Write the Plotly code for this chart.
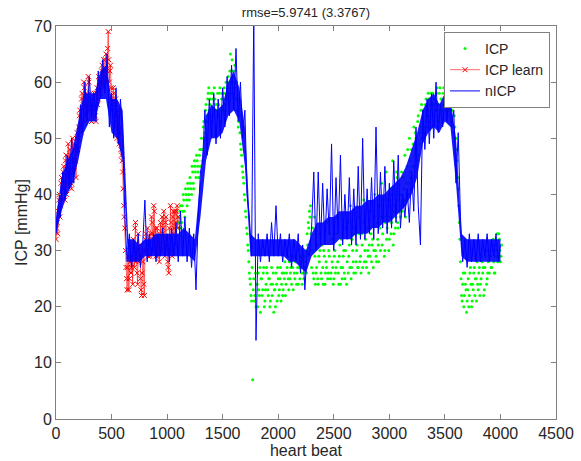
import plotly.graph_objects as go

# ---------------- data ----------------
# nICP (blue line), one value every 20 heart beats, starting at beat 0
nicp_start, nicp_step = 0, 20
nicp = [
    33, 38, 36, 44, 39, 47, 41, 50, 42, 49,      # 0-180
    47, 56, 51, 60, 53, 61, 54, 58, 53, 62,      # 200-380
    57, 64, 58, 65, 52, 58, 50, 59, 49, 57,      # 400-580
    51, 36, 28, 33, 27, 32, 28, 33, 27, 31,      # 600-780
    39, 28, 33, 29, 33, 28, 33, 29, 34, 29,      # 800-980
    33, 28, 34, 29, 35, 28, 37, 29, 36, 28,      # 1000-1180
    34, 27, 33, 23, 36, 44, 46, 55, 47, 57,      # 1200-1380
    50, 58, 49, 57, 50, 59, 52, 61, 54, 63,      # 1400-1580
    55, 66, 53, 60, 50, 55, 40, 36, 29, 72,      # 1600-1780
    14, 33, 28, 32, 29, 33, 28, 35, 29, 38,      # 1800-1980
    29, 33, 28, 32, 29, 33, 27, 32, 28, 33,      # 2000-2180
    26, 31, 23, 30, 29, 34, 44, 30, 44, 31,      # 2200-2380
    42, 31, 41, 33, 49, 30, 43, 33, 47, 31,      # 2400-2580
    40, 32, 43, 31, 41, 31, 45, 32, 50, 32,      # 2600-2780
    41, 33, 43, 32, 52, 33, 44, 34, 45, 33,      # 2800-2980
    42, 34, 46, 35, 47, 34, 40, 36, 41, 35,      # 3000-3180
    44, 37, 52, 38, 31, 55, 48, 57, 49, 58,      # 3200-3380
    50, 60, 51, 56, 52, 58, 53, 59, 52, 55,      # 3400-3580
    42, 51, 36, 28, 32, 27, 33, 28, 32, 28,      # 3600-3780
    33, 28, 32, 29, 33, 28, 32, 29, 33, 28,      # 3800-3980
    31,                                          # 4000
]

# dense core of the nICP trace: lower / upper edge every 50 heart beats
band_start, band_step = 0, 50
nicp_core_lo = [
    33, 37, 40, 42, 46, 51, 53, 53, 57, 57,      # 0-450
    51, 50, 46, 28, 28, 28, 29, 29, 29, 29,      # 500-950
    29, 29, 29, 29, 29, 28, 36, 46, 50, 50,      # 1000-1450
    51, 54, 55, 53, 45, 29, 29, 29, 29, 29,      # 1500-1950
    29, 29, 28, 28, 27, 26, 29, 30, 31, 31,      # 2000-2450
    31, 32, 32, 32, 33, 33, 33, 34, 34, 35,      # 2500-2950
    35, 36, 37, 38, 40, 43, 49, 51, 52, 51,      # 3000-3450
    53, 52, 42, 29, 28, 28, 28, 28, 28, 28,      # 3500-3950
    28,                                          # 4000
]
nicp_core_hi = [
    36, 43, 46, 48, 53, 58, 58, 58, 62, 63,      # 0-450
    57, 57, 55, 32, 32, 31, 32, 32, 33, 33,      # 500-950
    33, 33, 33, 34, 33, 32, 43, 54, 56, 55,      # 1000-1450
    56, 60, 62, 59, 52, 33, 32, 32, 32, 32,      # 1500-1950
    32, 32, 32, 32, 31, 30, 33, 35, 35, 36,      # 2000-2450
    36, 37, 37, 37, 38, 38, 39, 39, 40, 40,      # 2500-2950
    41, 42, 43, 45, 48, 51, 55, 57, 58, 56,      # 3000-3450
    58, 57, 50, 33, 32, 32, 32, 32, 32, 32,      # 3500-3950
    32,                                          # 4000
]

# ICP learn (red): two interleaved readings, every 10 beats from 0 and from 5
learn_start_a, learn_start_b, learn_step = 0, 5, 10
icp_learn_a = [
    32, 35, 37, 40, 38, 43, 41, 45, 39, 47, 42, 49, 44, 47, 41, 50, 45, 48, 43, 51,
    50, 54, 52, 57, 55, 60, 53, 58, 56, 61, 55, 58, 53, 57, 54, 56, 53, 59, 57, 60,
    58, 62, 60, 64, 61, 65, 62, 69, 60, 63, 57, 55, 58, 52, 56, 50, 54, 49, 51, 47,
    44, 38, 34, 27, 23, 29, 25, 31, 27, 24, 30, 34, 28, 26, 33, 29, 25, 22, 28, 24,
    30, 33, 31, 29, 32, 30, 36, 33, 38, 31, 29, 34, 32, 28, 35, 30, 33, 37, 29, 36,
    31, 27, 34, 38, 30, 36, 33, 37, 35, 38, 36,
]
icp_learn_b = [
    34, 33, 39, 36, 42, 39, 44, 42, 46, 40, 45, 43, 48, 42, 46, 44, 49, 46, 50, 48,
    52, 55, 51, 58, 56, 59, 54, 57, 55, 60, 56, 54, 56, 55, 58, 54, 58, 56, 61, 59,
    60, 63, 59, 62, 64, 60, 66, 64, 62, 59, 56, 59, 54, 57, 53, 55, 51, 52, 48, 46,
    41, 36, 30, 25, 27, 23, 28, 26, 29, 32, 27, 35, 30, 24, 28, 31, 23, 26, 30, 22,
    32, 30, 34, 31, 29, 33, 35, 30, 37, 34, 32, 29, 31, 33, 30, 36, 34, 31, 35, 30,
    28, 26, 32, 35, 29, 37, 34, 31, 37, 34,
]

# ICP (green dots): two interleaved readings, every 10 beats from 1100 and from 1105
icp_start_a, icp_start_b, icp_step = 1100, 1105, 10
icp_a = [
    36, 34, 38, 35, 37, 39, 36, 40, 38, 41, 39, 42, 40, 44, 41, 45, 43, 46, 44, 47,
    45, 50, 48, 53, 51, 56, 54, 58, 55, 57, 53, 58, 55, 57, 52, 56, 54, 58, 53, 57,
    55, 58, 56, 60, 57, 61, 59, 65, 58, 62, 60, 63, 57, 55, 52, 54, 49, 47, 44, 42,
    39, 36, 33, 30, 26, 24, 21, 7, 25, 22, 20, 24, 26, 22, 19, 25, 23, 27, 21, 24,
    26, 22, 25, 21, 27, 24, 19, 23, 26, 21, 25, 23, 27, 24, 22, 26, 28, 24, 27, 25,
    28, 26, 24, 27, 29, 25, 28, 26, 24, 27, 29, 26, 28, 25, 27, 30, 33, 35, 37, 38,
    27, 34, 25, 29, 26, 31, 24, 28, 33, 25, 27, 30, 24, 28, 35, 26, 29, 25, 32, 27,
    25, 30, 27, 36, 26, 29, 24, 32, 27, 30, 25, 34, 28, 26, 31, 38, 27, 30, 26, 33,
    28, 31, 27, 36, 29, 33, 27, 39, 30, 28, 34, 29, 31, 37, 28, 32, 30, 40, 29, 35,
    31, 38, 30, 42, 33, 36, 30, 44, 34, 39, 32, 41, 35, 46, 33, 38, 36, 43, 34, 40,
    36, 44, 38, 41, 47, 39, 45, 42, 50, 44, 48, 45, 52, 47, 50, 46, 54, 49, 52, 56,
    50, 55, 52, 57, 54, 58, 53, 56, 55, 58, 54, 57, 55, 59, 56, 58, 55, 57, 56, 59,
    57, 60, 56, 58, 55, 57, 53, 56, 51, 52, 50, 46, 41, 35, 28, 22, 24, 20, 26, 23,
    21, 25, 22, 27, 20, 24, 26, 22, 25, 28, 23, 27, 24, 29, 26, 22, 27, 30, 25, 28,
    26, 29, 27, 31, 28, 26, 30, 33, 29, 32, 28, 31,
]
icp_b = [
    35, 37, 34, 38, 40, 37, 41, 39, 42, 40, 43, 41, 45, 42, 46, 44, 47, 45, 43, 48,
    48, 46, 52, 50, 55, 53, 57, 59, 56, 58, 54, 57, 59, 56, 55, 58, 56, 59, 55, 58,
    57, 59, 55, 58, 60, 58, 62, 60, 64, 61, 59, 62, 60, 57, 53, 51, 48, 45, 43, 40,
    37, 34, 31, 28, 25, 22, 27, 23, 21, 26, 24, 20, 23, 27, 25, 22, 26, 20, 23, 27,
    23, 25, 20, 24, 22, 26, 23, 20, 24, 27, 22, 25, 21, 26, 23, 25, 22, 26, 29, 23,
    25, 27, 29, 23, 26, 28, 24, 27, 30, 25, 27, 24, 26, 29, 28, 26, 31, 34, 36, 33,
    30, 26, 36, 24, 27, 25, 29, 30, 26, 31, 24, 29, 26, 27, 25, 30, 33, 26, 28, 24,
    29, 26, 33, 28, 24, 31, 27, 25, 29, 26, 30, 24, 35, 29, 27, 25, 32, 28, 34, 26,
    30, 27, 33, 28, 26, 31, 35, 28, 32, 27, 30, 26, 29, 33, 31, 27, 36, 30, 28, 32,
    28, 34, 36, 31, 39, 29, 35, 32, 38, 30, 36, 33, 40, 31, 37, 34, 44, 35, 39, 37,
    40, 37, 43, 39, 36, 42, 48, 40, 46, 43, 41, 49, 45, 51, 48, 53, 47, 51, 55, 50,
    53, 51, 56, 52, 55, 57, 54, 58, 52, 56, 57, 55, 58, 53, 56, 59, 57, 55, 58, 56,
    58, 55, 59, 57, 54, 56, 55, 52, 54, 50, 48, 43, 38, 32, 25, 21, 26, 22, 24, 19,
    23, 20, 26, 24, 21, 23, 27, 25, 21, 24, 26, 22, 25, 28, 27, 23, 29, 24, 26, 30,
    29, 27, 30, 32, 26, 29, 31, 28, 33, 30, 29,
]

title_text = "rmse=5.9741 (3.3767)"
x_title = "heart beat"
y_title = "ICP [mmHg]"
x_range, x_dtick = [0, 4500], 500
y_range, y_dtick = [0, 70], 10

# ---------------- figure ----------------
nicp_x = [nicp_start + nicp_step * i for i in range(len(nicp))]
band_x = [band_start + band_step * i for i in range(len(nicp_core_lo))]

learn_pts = sorted(
    [(learn_start_a + learn_step * i, v) for i, v in enumerate(icp_learn_a)]
    + [(learn_start_b + learn_step * i, v) for i, v in enumerate(icp_learn_b)]
)
learn_x = [p[0] for p in learn_pts]
learn_y = [p[1] for p in learn_pts]

icp_pts = sorted(
    [(icp_start_a + icp_step * i, v) for i, v in enumerate(icp_a)]
    + [(icp_start_b + icp_step * i, v) for i, v in enumerate(icp_b)]
)
icp_x = [p[0] for p in icp_pts]
icp_y = [p[1] for p in icp_pts]

font_family = "Liberation Sans, Arial, sans-serif"
axis_color = "#808080"
text_color = "#262626"
blue = "#0000ff"

fig = go.Figure()
fig.add_trace(go.Scatter(
    x=icp_x, y=icp_y, name="ICP", mode="markers",
    marker=dict(color="#00ff00", size=3, line=dict(width=0)),
))
fig.add_trace(go.Scatter(
    x=learn_x, y=learn_y, name="ICP learn", mode="lines+markers",
    line=dict(color="#ff0000", width=0.6),
    marker=dict(color="#ff0000", symbol="x-thin", size=5,
                line=dict(color="#ff0000", width=1)),
))
# dense core of nICP
fig.add_trace(go.Scatter(
    x=band_x, y=nicp_core_lo, mode="lines", line=dict(width=0, color=blue),
    showlegend=False, hoverinfo="skip",
))
fig.add_trace(go.Scatter(
    x=band_x, y=nicp_core_hi, mode="lines", line=dict(width=0, color=blue),
    fill="tonexty", fillcolor="rgba(0,0,255,0.9)",
    showlegend=False, hoverinfo="skip",
))
fig.add_trace(go.Scatter(
    x=nicp_x, y=nicp, name="nICP", mode="lines",
    line=dict(color=blue, width=1),
))

fig.update_layout(
    width=581, height=461,
    margin=dict(l=56, r=25, t=26, b=42),
    paper_bgcolor="white", plot_bgcolor="white",
    font=dict(family=font_family, size=16, color=text_color),
    title=dict(text=title_text, x=(306 / 581), xanchor="center",
               y=1 - 12 / 461, yanchor="middle",
               font=dict(size=13, color=text_color)),
    showlegend=True,
    legend=dict(x=0.988, y=0.985, xanchor="right", yanchor="top",
                traceorder="normal",
                bgcolor="white", bordercolor=axis_color, borderwidth=1,
                font=dict(size=14, color=text_color), tracegroupgap=0),
)
fig.update_xaxes(
    range=x_range, dtick=x_dtick, tick0=0, automargin=False,
    showgrid=False, zeroline=False,
    showline=True, linecolor=axis_color, linewidth=1, mirror="ticks",
    ticks="inside", ticklen=5, tickcolor=axis_color,
    tickfont=dict(size=16, color=text_color),
    title=dict(text=x_title, standoff=2, font=dict(size=16, color=text_color)),
)
fig.update_yaxes(
    range=y_range, dtick=y_dtick, tick0=0, automargin=False,
    showgrid=False, zeroline=False,
    showline=True, linecolor=axis_color, linewidth=1, mirror="ticks",
    ticks="inside", ticklen=5, tickcolor=axis_color,
    tickfont=dict(size=16, color=text_color),
    title=dict(text=y_title, standoff=2, font=dict(size=16, color=text_color)),
)

fig.write_html("out.html",
               config={"displayModeBar": False},
               post_script="document.body.style.margin='0px';"
                           "document.body.style.overflow='hidden';")
